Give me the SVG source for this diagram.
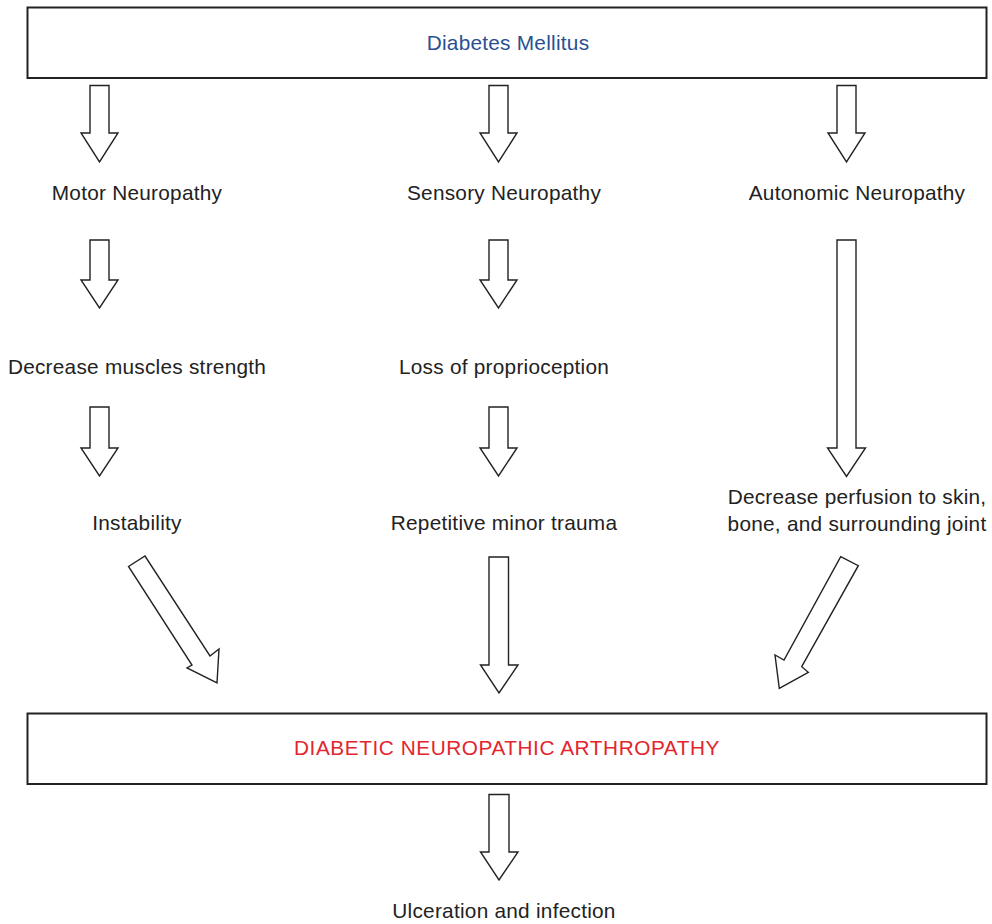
<svg xmlns="http://www.w3.org/2000/svg" width="992" height="924" viewBox="0 0 992 924">
  <style>
    .box { fill: #ffffff; stroke: #222222; stroke-width: 2; }
    .arrow { fill: #ffffff; stroke: #222222; stroke-width: 1.4; stroke-linejoin: miter; }
    .lbl { font-family: "Liberation Sans", Arial, sans-serif; font-size: 20.8px; letter-spacing: 0.25px; fill: #222222; text-anchor: middle; }
    .blue { fill: #2b4f92; }
    .red { fill: #e3252d; letter-spacing: 0.55px; }
  </style>
  <rect width="992" height="924" fill="#ffffff"/>

  <g id="diabetes-mellitus">
    <rect class="box" x="27.5" y="7.5" width="959" height="70.5"/>
    <text class="lbl blue" x="508" y="50">Diabetes Mellitus</text>
  </g>

  <g id="motor-neuropathy"><text class="lbl" x="137" y="200">Motor Neuropathy</text></g>
  <g id="sensory-neuropathy"><text class="lbl" x="504" y="200">Sensory Neuropathy</text></g>
  <g id="autonomic-neuropathy"><text class="lbl" x="857" y="200">Autonomic Neuropathy</text></g>

  <g id="decrease-muscles-strength"><text class="lbl" x="137" y="374">Decrease muscles strength</text></g>
  <g id="loss-of-proprioception"><text class="lbl" x="504" y="374">Loss of proprioception</text></g>

  <g id="instability"><text class="lbl" x="137" y="530">Instability</text></g>
  <g id="repetitive-minor-trauma"><text class="lbl" x="504" y="530">Repetitive minor trauma</text></g>
  <g id="decrease-perfusion">
    <text class="lbl" x="857" y="504">Decrease perfusion to skin,</text>
    <text class="lbl" x="857" y="531">bone, and surrounding joint</text>
  </g>

  <g id="diabetic-neuropathic-arthropathy">
    <rect class="box" x="27.5" y="713.5" width="959" height="70.5"/>
    <text class="lbl red" x="507" y="755">DIABETIC NEUROPATHIC ARTHROPATHY</text>
  </g>

  <g id="ulceration-and-infection"><text class="lbl" x="504" y="918">Ulceration and infection</text></g>

  <g id="connectors">
    <!-- row 1: Diabetes Mellitus to the three neuropathies -->
    <path class="arrow" d="M90,85.5 H109 V133 H118 L99.5,162 L81,133 H90 Z"/>
    <path class="arrow" d="M489,85.5 H508 V133 H517 L498.5,162 L480,133 H489 Z"/>
    <path class="arrow" d="M837,85.5 H856 V133 H865 L846.5,162 L828,133 H837 Z"/>
    <!-- row 2 -->
    <path class="arrow" d="M90,240 H109 V280 H118 L99.5,308 L81,280 H90 Z"/>
    <path class="arrow" d="M489,240 H508 V280 H517 L498.5,308 L480,280 H489 Z"/>
    <path class="arrow" d="M837,240 H856 V448 H865.5 L846.5,476.5 L827.5,448 H837 Z"/>
    <!-- row 3 -->
    <path class="arrow" d="M90,407 H109 V448 H118 L99.5,476 L81,448 H90 Z"/>
    <path class="arrow" d="M489,407 H508 V448 H517 L498.5,476 L480,448 H489 Z"/>
    <!-- into the arthropathy box -->
    <path class="arrow" d="M128.5,566.5 L145,556 L210,656 L219,649 L217,683 L187,668 L192,665 Z"/>
    <path class="arrow" d="M489,557 H508.5 V665 H518 L499,693 L480.5,665 H489 Z"/>
    <path class="arrow" d="M840.7,556.7 L858.3,565.7 L801.7,666.7 L808.3,672.3 L779.3,688.3 L775,655 L784,660 Z"/>
    <!-- to ulceration -->
    <path class="arrow" d="M489,794.5 H509 V852 H518 L499,880 L480.5,852 H489 Z"/>
  </g>
</svg>
